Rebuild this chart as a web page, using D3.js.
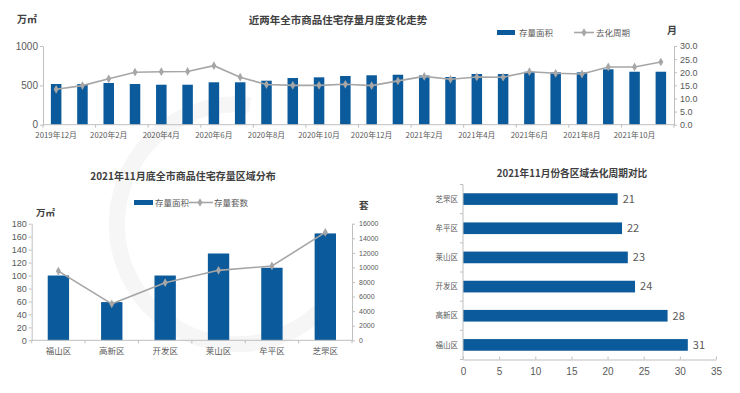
<!DOCTYPE html>
<html>
<head>
<meta charset="UTF-8">
<title>商品住宅存量</title>
<style>
  body { margin: 0; background: #fff; }
  svg { display: block; font-family: "Noto Sans CJK SC", "Liberation Sans", sans-serif; }
  .axis path, .axis line { stroke: #bfbfbf; }
  .axis text { fill: #595959; }
  .title { font-weight: bold; fill: #404040; }
  .unit { font-weight: bold; fill: #404040; }
  .legend { fill: #595959; }
</style>
</head>
<body>
<svg id="chart" width="740" height="393"></svg>
<script src="https://d3js.org/d3.v7.min.js"></script>
<script>
  // 数据
  var months = ["2019年12月","2020年1月","2020年2月","2020年3月","2020年4月","2020年5月","2020年6月","2020年7月",
                "2020年8月","2020年9月","2020年10月","2020年11月","2020年12月","2021年1月","2021年2月","2021年3月",
                "2021年4月","2021年5月","2021年6月","2021年7月","2021年8月","2021年9月","2021年10月","2021年11月"];
  var stockArea = [517,515,530,517,508,508,539,539,559,593,602,619,628,635,625,606,644,644,673,665,665,704,673,673];
  var cycle = [13.5,14.9,17.5,20.0,20.2,20.3,22.5,18.1,15.3,15.0,15.0,15.4,14.9,16.7,18.4,17.3,18.2,18.1,20.2,19.6,19.3,22.0,22.0,23.9];

  var districts = ["福山区","高新区","开发区","莱山区","牟平区","芝罘区"];
  var districtArea = [100,59,100,134,112,165];
  var districtUnits = [9500,5000,7900,9600,10200,14800];

  var cycleDistricts = ["芝罘区","牟平区","莱山区","开发区","高新区","福山区"];
  var cycleMonths = [21.4,22.0,22.8,23.8,28.3,31.1];

  var blue = "#0b5a9b", gray = "#a6a6a6";
  var svg = d3.select("#chart");

  // 水印的弧线（很淡）
  svg.append("path")
    .attr("d", "M 250 105 A 120 120 0 1 0 330 300")
    .attr("fill", "none").attr("stroke", "#f6f6f6").attr("stroke-width", 16);

  function diamond(g, x, y) {
    g.append("path").attr("d", d3.symbol(d3.symbolDiamond, 22)())
      .attr("transform", "translate(" + x + "," + y + ")").attr("fill", gray);
  }

  // ---------- 上图：月度走势 ----------
  var x1 = d3.scaleBand().domain(months).range([43, 674]).paddingInner(0.6).paddingOuter(0.3);
  var y1 = d3.scaleLinear().domain([0, 1000]).range([124.7, 46]);
  var y1r = d3.scaleLinear().domain([0, 30]).range([124.7, 46]);

  svg.append("text").attr("class", "title").attr("x", 338).attr("y", 24)
    .attr("text-anchor", "middle").style("font-size", "10.5px").text("近两年全市商品住宅存量月度变化走势");
  svg.append("text").attr("class", "unit").attr("x", 17).attr("y", 23).style("font-size", "10px").text("万㎡");
  svg.append("text").attr("class", "unit").attr("x", 667).attr("y", 34).style("font-size", "10px").text("月");

  svg.append("g").selectAll("rect").data(months).enter().append("rect")
    .attr("x", function(d) { return x1(d); })
    .attr("width", x1.bandwidth())
    .attr("y", function(d, i) { return y1(stockArea[i]); })
    .attr("height", function(d, i) { return y1(0) - y1(stockArea[i]); })
    .attr("fill", blue);

  var line1 = d3.line()
    .x(function(d, i) { return x1(months[i]) + x1.bandwidth() / 2; })
    .y(function(d) { return y1r(d); });
  svg.append("path").datum(cycle).attr("d", line1).attr("fill", "none").attr("stroke", gray).attr("stroke-width", 1.6);
  var m1 = svg.append("g");
  cycle.forEach(function(d, i) { diamond(m1, x1(months[i]) + x1.bandwidth() / 2, y1r(d)); });

  svg.append("g").attr("class", "axis").attr("transform", "translate(43,0)")
    .call(d3.axisLeft(y1).tickValues([0, 500, 1000]).tickFormat(d3.format("d")).tickSize(3).tickSizeOuter(0))
    .call(function(g) { g.selectAll("text").style("font-size", "10px").attr("x", -5).attr("dy", "0.3em"); });
  svg.append("g").attr("class", "axis").attr("transform", "translate(674,0)")
    .call(d3.axisRight(y1r).tickValues(d3.range(0, 31, 5)).tickFormat(d3.format(".1f")).tickSize(3).tickSizeOuter(0))
    .call(function(g) { g.selectAll("text").style("font-size", "9px").attr("x", 6); });
  // x 轴
  var xa1 = svg.append("g").attr("class", "axis").attr("transform", "translate(0,124.7)");
  xa1.append("line").attr("x1", 43).attr("x2", 674).attr("stroke", "#bfbfbf");
  xa1.selectAll("line.tk").data(d3.range(0, 25, 2)).enter().append("line").attr("class", "tk")
    .attr("x1", function(k) { return 43 + x1.step() * k; })
    .attr("x2", function(k) { return 43 + x1.step() * k; })
    .attr("y2", 3).attr("stroke", "#bfbfbf");
  xa1.selectAll("text").data(months.filter(function(d, i) { return i % 2 === 0; })).enter().append("text")
    .attr("x", function(d) { return x1(d) + x1.bandwidth() / 2; })
    .attr("y", 13).attr("text-anchor", "middle").style("font-size", "7.8px").text(function(d) { return d; });

  // 图例
  svg.append("rect").attr("x", 497).attr("y", 30).attr("width", 18).attr("height", 5).attr("fill", blue);
  svg.append("text").attr("class", "legend").attr("x", 519).attr("y", 36).style("font-size", "8.5px").text("存量面积");
  svg.append("line").attr("x1", 574).attr("x2", 594).attr("y1", 32.5).attr("y2", 32.5).attr("stroke", gray).attr("stroke-width", 1.6);
  diamond(svg, 584, 32.5);
  svg.append("text").attr("class", "legend").attr("x", 596).attr("y", 36).style("font-size", "8.5px").text("去化周期");

  // ---------- 左下：区域分布 ----------
  var x2 = d3.scaleBand().domain(districts).range([31.7, 352]).paddingInner(0.6).paddingOuter(0.3);
  var y2 = d3.scaleLinear().domain([0, 180]).range([340.3, 223.7]);
  var y2r = d3.scaleLinear().domain([0, 16000]).range([340.3, 223.7]);

  svg.append("text").attr("class", "title").attr("x", 183).attr("y", 180)
    .attr("text-anchor", "middle").style("font-size", "10px").text("2021年11月底全市商品住宅存量区域分布");
  svg.append("text").attr("class", "unit").attr("x", 36).attr("y", 216).style("font-size", "9.5px").text("万㎡");
  svg.append("text").attr("class", "unit").attr("x", 359).attr("y", 209).style("font-size", "9.5px").text("套");

  svg.append("g").selectAll("rect").data(districts).enter().append("rect")
    .attr("x", function(d) { return x2(d); })
    .attr("width", x2.bandwidth())
    .attr("y", function(d, i) { return y2(districtArea[i]); })
    .attr("height", function(d, i) { return y2(0) - y2(districtArea[i]); })
    .attr("fill", blue);

  var line2 = d3.line()
    .x(function(d, i) { return x2(districts[i]) + x2.bandwidth() / 2; })
    .y(function(d) { return y2r(d); });
  svg.append("path").datum(districtUnits).attr("d", line2).attr("fill", "none").attr("stroke", gray).attr("stroke-width", 1.6);
  var m2 = svg.append("g");
  districtUnits.forEach(function(d, i) { diamond(m2, x2(districts[i]) + x2.bandwidth() / 2, y2r(d)); });

  svg.append("g").attr("class", "axis").attr("transform", "translate(31.7,0)")
    .call(d3.axisLeft(y2).tickValues(d3.range(0, 181, 20)).tickSize(3).tickSizeOuter(0))
    .call(function(g) { g.selectAll("text").style("font-size", "9px").attr("x", -5); });
  svg.append("g").attr("class", "axis").attr("transform", "translate(352,0)")
    .call(d3.axisRight(y2r).tickValues(d3.range(0, 16001, 2000)).tickSize(3).tickSizeOuter(0).tickFormat(d3.format("d")))
    .call(function(g) { g.selectAll("text").style("font-size", "7px").attr("x", 7); });
  var xa2 = svg.append("g").attr("class", "axis").attr("transform", "translate(0,340.3)");
  xa2.append("line").attr("x1", 31.7).attr("x2", 352).attr("stroke", "#bfbfbf");
  xa2.selectAll("line.tk").data(d3.range(0, 7)).enter().append("line").attr("class", "tk")
    .attr("x1", function(k) { return 31.7 + x2.step() * k; })
    .attr("x2", function(k) { return 31.7 + x2.step() * k; })
    .attr("y2", 3).attr("stroke", "#bfbfbf");
  xa2.selectAll("text").data(districts).enter().append("text")
    .attr("x", function(d) { return x2(d) + x2.bandwidth() / 2; })
    .attr("y", 14).attr("text-anchor", "middle").style("font-size", "8.5px").text(function(d) { return d; });

  svg.append("rect").attr("x", 134).attr("y", 200).attr("width", 19).attr("height", 5).attr("fill", blue);
  svg.append("text").attr("class", "legend").attr("x", 155).attr("y", 205.5).style("font-size", "8.5px").text("存量面积");
  svg.append("line").attr("x1", 189).attr("x2", 213).attr("y1", 202.5).attr("y2", 202.5).attr("stroke", gray).attr("stroke-width", 1.6);
  diamond(svg, 200, 202.5);
  svg.append("text").attr("class", "legend").attr("x", 214).attr("y", 205.5).style("font-size", "8.5px").text("存量套数");

  // ---------- 右下：去化周期对比 ----------
  var x3 = d3.scaleLinear().domain([0, 35]).range([463, 716]);
  var y3 = d3.scaleBand().domain(cycleDistricts).range([184.5, 359.5]).paddingInner(0.6).paddingOuter(0.3);

  svg.append("text").attr("class", "title").attr("x", 572).attr("y", 177)
    .attr("text-anchor", "middle").style("font-size", "9.7px").text("2021年11月份各区域去化周期对比");

  svg.append("g").selectAll("rect").data(cycleDistricts).enter().append("rect")
    .attr("x", x3(0))
    .attr("y", function(d) { return y3(d); })
    .attr("height", y3.bandwidth())
    .attr("width", function(d, i) { return x3(cycleMonths[i]) - x3(0); })
    .attr("fill", blue);
  svg.append("g").selectAll("text").data(cycleDistricts).enter().append("text")
    .attr("x", function(d, i) { return x3(cycleMonths[i]) + 5; })
    .attr("y", function(d) { return y3(d) + y3.bandwidth() / 2; })
    .attr("dy", "0.35em").attr("fill", "#595959").style("font-size", "11px")
    .text(function(d, i) { return d3.format(".0f")(cycleMonths[i]); });

  svg.append("g").attr("class", "axis").attr("transform", "translate(0,359.5)")
    .call(d3.axisBottom(x3).tickValues(d3.range(0, 36, 5)).tickSizeInner(-3).tickSizeOuter(0))
    .call(function(g) { g.selectAll("text").style("font-size", "10px").attr("y", 8); });
  var ya3 = svg.append("g").attr("class", "axis").attr("transform", "translate(463,0)");
  ya3.append("line").attr("y1", 184.5).attr("y2", 359.5).attr("stroke", "#bfbfbf");
  ya3.selectAll("line.tk").data(d3.range(0, 7)).enter().append("line").attr("class", "tk")
    .attr("y1", function(k) { return 184.5 + y3.step() * k; })
    .attr("y2", function(k) { return 184.5 + y3.step() * k; })
    .attr("x2", -3).attr("stroke", "#bfbfbf");
  ya3.selectAll("text").data(cycleDistricts).enter().append("text")
    .attr("x", -5).attr("y", function(d) { return y3(d) + y3.bandwidth() / 2; })
    .attr("dy", "0.35em").attr("text-anchor", "end").style("font-size", "7.5px").text(function(d) { return d; });
</script>
</body>
</html>
